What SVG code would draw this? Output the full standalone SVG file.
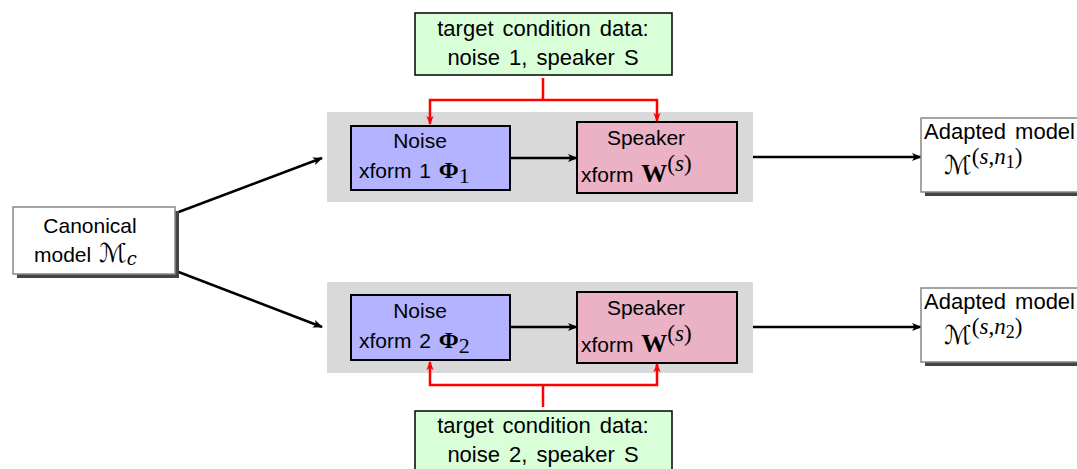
<svg xmlns="http://www.w3.org/2000/svg" width="1077" height="469" viewBox="0 0 1077 469">
  <defs>
    <marker id="arrBlack" viewBox="0 0 10 10" refX="9" refY="5" markerWidth="10" markerHeight="10" markerUnits="userSpaceOnUse" orient="auto">
      <path d="M0,1 L10,5 L0,9 L2.5,5 Z" fill="#000"/>
    </marker>
    <marker id="arrRed" viewBox="0 0 10 10" refX="9" refY="5" markerWidth="9" markerHeight="9" markerUnits="userSpaceOnUse" orient="auto">
      <path d="M0,1 L10,5 L0,9 L2.5,5 Z" fill="#ff0000"/>
    </marker>
  </defs>
  <style>
    text { font-family: "Liberation Sans", Arial, sans-serif; font-size: 21px; fill: #000; word-spacing: 2px; }
    .mid { text-anchor: middle; }
    .wide { font-size: 22px; word-spacing: 3px; }
    .math { font-family: "Liberation Serif", "DejaVu Serif", serif; word-spacing: 0; }
    .cal { font-family: "DejaVu Serif", "DejaVu Sans", serif; font-style: italic; font-size: 26px; }
    .bold { font-weight: bold; }
    .sup { font-size: 23px; }
    .sub { font-size: 18px; }
    .panel { fill: #d9d9d9; }
    .noise { fill: #b3b3ff; stroke: #000; stroke-width: 2; }
    .speaker { fill: #ebb1c5; stroke: #000; stroke-width: 2; }
    .target { fill: #d9ffd9; stroke: #000; stroke-width: 1.5; }
    .model { fill: #fff; stroke: #888; stroke-width: 1.5; }
    .shadow { fill: #444; }
    .flow { stroke: #000; stroke-width: 2.5; fill: none; marker-end: url(#arrBlack); }
    .cond { stroke: #ff0000; stroke-width: 2.5; fill: none; }
    .condArrow { stroke: #ff0000; stroke-width: 2.5; fill: none; marker-end: url(#arrRed); }
  </style>

  <!-- grey panels behind each transform chain -->
  <rect class="panel" x="327" y="112" width="426" height="90"/>
  <rect class="panel" x="327" y="282" width="426" height="91"/>

  <!-- connectors -->
  <g id="connectors">
    <line class="flow" x1="176" y1="213" x2="322" y2="158"/>
    <line class="flow" x1="176" y1="271" x2="322" y2="327"/>
    <line class="flow" x1="510" y1="158" x2="577" y2="158"/>
    <line class="flow" x1="510" y1="327" x2="577" y2="327"/>
    <line class="flow" x1="753" y1="157" x2="921" y2="157"/>
    <line class="flow" x1="753" y1="327" x2="921" y2="327"/>
    <!-- condition data feeds (top) -->
    <polyline class="cond" points="543,78 543,100"/>
    <polyline class="condArrow" points="543,100 430,100 430,124"/>
    <polyline class="condArrow" points="543,100 657,100 657,121"/>
    <!-- condition data feeds (bottom) -->
    <polyline class="cond" points="543,407 543,385"/>
    <polyline class="condArrow" points="543,385 430,385 430,362"/>
    <polyline class="condArrow" points="543,385 657,385 657,364"/>
  </g>

  <!-- canonical model -->
  <g id="canonical">
    <rect class="shadow" x="17" y="211" width="162" height="67"/>
    <rect class="model" x="13" y="207" width="162" height="67"/>
    <text class="mid" x="90" y="233">Canonical</text>
    <text x="34" y="262">model <tspan class="cal">ℳ</tspan><tspan class="cal sub" dy="3">c</tspan></text>
  </g>

  <!-- top chain -->
  <g id="target1">
    <rect class="target" x="415" y="13" width="257" height="62"/>
    <text class="mid wide" x="543" y="36">target condition data:</text>
    <text class="mid wide" x="543" y="65">noise 1, speaker S</text>
  </g>
  <g id="noise1">
    <rect class="noise" x="351" y="126" width="159" height="64"/>
    <text class="mid" x="420" y="148">Noise</text>
    <text x="359" y="178">xform 1 <tspan class="math bold" font-size="24">Φ</tspan><tspan class="math" font-size="22" dy="5">1</tspan></text>
  </g>
  <g id="speaker1">
    <rect class="speaker" x="577" y="122" width="160" height="71"/>
    <text class="mid" x="646" y="145">Speaker</text>
    <text x="581" y="182">xform <tspan class="math bold" font-size="26">W</tspan><tspan class="math sup" dy="-11">(<tspan font-style="italic">s</tspan>)</tspan></text>
  </g>
  <g id="adapted1">
    <rect class="shadow" x="925" y="122" width="160" height="74"/>
    <rect class="model" x="921" y="118" width="160" height="74"/>
    <text class="wide" x="924" y="139">Adapted model</text>
    <text x="944" y="174"><tspan class="cal">ℳ</tspan><tspan class="math sup" dy="-10">(<tspan font-style="italic">s</tspan>,<tspan font-style="italic">n</tspan></tspan><tspan class="math" font-size="18" dy="4">1</tspan><tspan class="math sup" dy="-4">)</tspan></text>
  </g>

  <!-- bottom chain -->
  <g id="noise2">
    <rect class="noise" x="351" y="295" width="159" height="65"/>
    <text class="mid" x="420" y="318">Noise</text>
    <text x="359" y="348">xform 2 <tspan class="math bold" font-size="24">Φ</tspan><tspan class="math" font-size="22" dy="5">2</tspan></text>
  </g>
  <g id="speaker2">
    <rect class="speaker" x="577" y="292" width="160" height="71"/>
    <text class="mid" x="646" y="315">Speaker</text>
    <text x="581" y="352">xform <tspan class="math bold" font-size="26">W</tspan><tspan class="math sup" dy="-11">(<tspan font-style="italic">s</tspan>)</tspan></text>
  </g>
  <g id="adapted2">
    <rect class="shadow" x="925" y="292" width="160" height="74"/>
    <rect class="model" x="921" y="288" width="160" height="74"/>
    <text class="wide" x="924" y="309">Adapted model</text>
    <text x="944" y="344"><tspan class="cal">ℳ</tspan><tspan class="math sup" dy="-10">(<tspan font-style="italic">s</tspan>,<tspan font-style="italic">n</tspan></tspan><tspan class="math" font-size="18" dy="4">2</tspan><tspan class="math sup" dy="-4">)</tspan></text>
  </g>
  <g id="target2">
    <rect class="target" x="415" y="411" width="257" height="70"/>
    <text class="mid wide" x="543" y="433">target condition data:</text>
    <text class="mid wide" x="543" y="462">noise 2, speaker S</text>
  </g>
</svg>
